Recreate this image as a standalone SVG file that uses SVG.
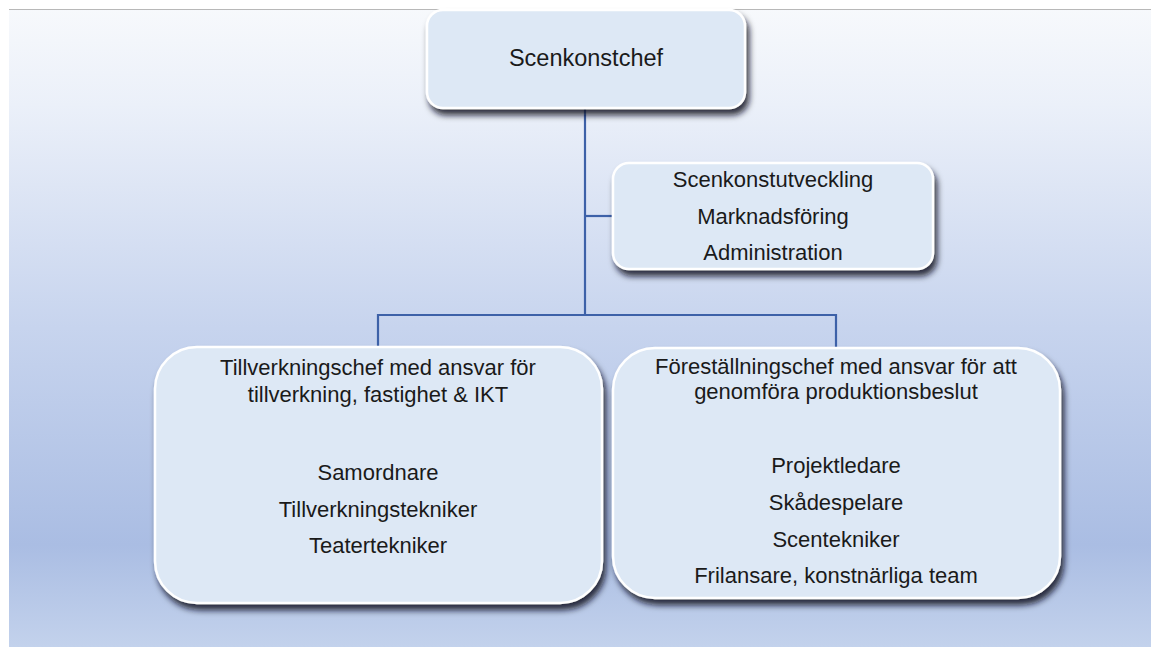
<svg xmlns="http://www.w3.org/2000/svg" width="1151" height="647" viewBox="0 0 1151 647">
<defs>
<linearGradient id="bg" x1="0" y1="0" x2="0" y2="1">
<stop offset="0" stop-color="#f7f9fc"/>
<stop offset="0.15" stop-color="#ebf0f9"/>
<stop offset="0.5" stop-color="#c7d4ee"/>
<stop offset="0.84" stop-color="#aabde3"/>
<stop offset="1" stop-color="#c3d2ec"/>
</linearGradient>
<filter id="sh" x="-10%" y="-10%" width="125%" height="130%">
<feDropShadow dx="3" dy="6" stdDeviation="3" flood-color="#0a0f1a" flood-opacity="0.85"/>
</filter>
<style>
.box{fill:#dde8f5;stroke:#ffffff;stroke-width:2.5;filter:url(#sh)}
.t{font-family:"Liberation Sans",Arial,sans-serif;font-size:22px;fill:#1a1a1a;text-anchor:middle}
.c{fill:none;stroke:#3d61a8;stroke-width:2.2}
</style>
</defs>
<rect x="0" y="0" width="1151" height="647" fill="#ffffff"/>
<rect x="9" y="9" width="1142" height="638" fill="url(#bg)"/>
<line x1="9" y1="9.5" x2="1151" y2="9.5" stroke="#b8b8b8" stroke-width="1"/>
<g id="connectors">
<path class="c" d="M585,108 V315"/>
<path class="c" d="M585,216 H613"/>
<path class="c" d="M378,347 V315 H836 V348"/>
</g>
<g id="n1">
<rect class="box" x="427" y="10" width="318" height="98" rx="16"/>
<text class="t" x="586" y="66" style="font-size:23.5px">Scenkonstchef</text>
</g>
<g id="n2">
<rect class="box" x="613" y="163" width="320" height="106" rx="16"/>
<text class="t" x="773" y="187">Scenkonstutveckling</text>
<text class="t" x="773" y="224">Marknadsföring</text>
<text class="t" x="773" y="260">Administration</text>
</g>
<g id="n3">
<rect class="box" x="155" y="347" width="447" height="256" rx="42"/>
<text class="t" x="378" y="375">Tillverkningschef med ansvar för</text>
<text class="t" x="378" y="402">tillverkning, fastighet &amp; IKT</text>
<text class="t" x="378" y="480">Samordnare</text>
<text class="t" x="378" y="517">Tillverkningstekniker</text>
<text class="t" x="378" y="553">Teatertekniker</text>
</g>
<g id="n4">
<rect class="box" x="613" y="348" width="447" height="250" rx="42"/>
<text class="t" x="836" y="374">Föreställningschef med ansvar för att</text>
<text class="t" x="836" y="399">genomföra produktionsbeslut</text>
<text class="t" x="836" y="473">Projektledare</text>
<text class="t" x="836" y="510">Skådespelare</text>
<text class="t" x="836" y="547">Scentekniker</text>
<text class="t" x="836" y="583">Frilansare, konstnärliga team</text>
</g>
</svg>
